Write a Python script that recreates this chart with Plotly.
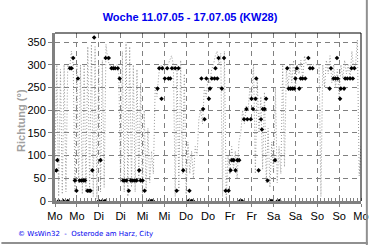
import plotly.graph_objects as go

# time axis: hours since Mo 11.07.05 00:00
tick_hours = [0, 12, 24, 36, 48, 60, 72, 84, 96, 108, 120, 132, 144, 156, 168]
tick_labels = ["Mo", "Mo", "Di", "Di", "Mi", "Mi", "Do", "Do", "Fr", "Fr",
               "Sa", "Sa", "So", "So", "Mo"]
y_ticks = [0, 50, 100, 150, 200, 250, 300, 350]

# fine-resolution wind direction trace (approx. hourly readings of the dotted curve)
gray_h = list(range(0, 169))
gray_v = [90, 300, 10, 290, 15, 300, 20, 300, 290, 330,
          300, 20, 300, 40, 300, 15, 300, 20, 340, 25,
          345, 10, 340, 5, 300, 20, 310, 30, 345, 310,
          300, 295, 300, 290, 300, 280, 40, 330, 20, 350,
          10, 340, 30, 300, 20, 290, 40, 260, 10, 200,
          20, 160, 40, 110, 60, 250, 230, 280, 300, 295,
          300, 290, 300, 310, 320, 300, 10, 300, 20, 310,
          60, 280, 15, 130, 60, 110, 50, 120, 100, 180,
          200, 170, 250, 230, 270, 260, 290, 300, 320, 330,
          300, 325, 10, 330, 5, 100, 60, 120, 70, 110,
          50, 130, 150, 200, 170, 210, 200, 250, 230, 300,
          60, 270, 150, 230, 70, 240, 40, 160, 30, 130,
          60, 250, 40, 120, 60, 300, 75, 290, 250, 300,
          260, 310, 250, 300, 280, 310, 270, 320, 300, 300,
          300, 300, 300, 300, 300, 300, 10, 300, 250, 310,
          280, 320, 260, 300, 250, 290, 230, 300, 270, 310,
          280, 300, 270, 330, 290, 300, 355, 55, 120]

# hourly mean directions (black markers)
mk_h = [0.8, 1.3, 2.0, 4.5, 7.0,
        8.2, 9.1, 10.0, 10.9, 11.8, 12.6,
        13.5, 14.5, 15.5, 16.5, 17.8, 18.7, 19.5, 20.5, 21.5,
        24.1, 25.0, 26.0, 27.5,
        27.8, 29.5, 31.0, 32.0, 33.0, 34.5, 35.5,
        37.4, 38.3, 39.3, 40.5, 41.6, 42.7, 43.8, 44.8, 46.2, 47.0, 48.1, 49.2,
        51.8, 52.8, 53.8,
        56.3, 57.2, 58.5, 58.9, 60.3, 61.6, 62.3, 63.3, 64.2, 66.0, 66.8, 67.8,
        70.4, 73.3, 73.8, 74.8, 75.8,
        80.4, 81.3, 82.1, 83.1, 84.5, 85.1, 86.1, 87.6, 88.1, 89.1, 89.8, 91.6, 92.8,
        93.7, 95.3, 96.4, 97.1, 98.1, 99.1, 100.1, 101.1, 101.6, 102.6,
        103.8, 105.1, 105.6, 107.5, 107.9, 108.7, 110.1, 110.5, 111.8, 113.1,
        113.6, 114.1, 115.1, 115.9, 116.7,
        118.1, 119.1, 120.8, 122.2, 123.2,
        127.5, 128.3, 129.3, 130.3, 131.3, 132.0, 132.8, 134.1, 134.9, 135.9,
        137.4, 139.1, 140.0, 141.4,
        150.8, 151.5, 152.9, 154.0, 154.8, 155.2, 156.5, 156.9, 158.7, 159.3,
        160.5, 162.0, 162.8, 163.5, 164.4]
mk_v = [67.5, 90, 0, 0, 0,
        292.5, 292.5, 315, 45, 22.5, 270,
        45, 45, 45, 45, 22.5, 22.5, 22.5, 67.5, 360,
        0, 90, 0, 0,
        315, 315, 292.5, 292.5, 292.5, 292.5, 270,
        45, 45, 45, 22.5, 45, 45, 45, 45, 67.5, 45, 45, 22.5,
        0, 0, 0,
        247.5, 292.5, 225, 292.5, 270, 292.5, 270, 270, 292.5, 292.5, 22.5, 292.5,
        67.5, 0, 22.5, 0, 0,
        270, 202.5, 180, 270, 225, 247.5, 270, 270, 292.5, 270, 315, 247.5, 315,
        22.5, 22.5, 67.5, 90, 90, 67.5, 90, 90, 0, 0,
        180, 202.5, 180, 180, 225, 202.5, 225, 270, 67.5, 180,
        157.5, 202.5, 202.5, 225, 45,
        0, 0, 90, 0, 0,
        292.5, 247.5, 247.5, 247.5, 247.5, 270, 292.5, 247.5, 270, 270,
        270, 315, 292.5, 292.5,
        247.5, 292.5, 270, 270, 315, 270, 225, 247.5, 247.5, 270,
        270, 270, 292.5, 270, 292.5]

fig = go.Figure()
fig.add_trace(go.Scatter(
    x=gray_h, y=gray_v, mode="lines",
    line=dict(color="#9a9a9a", width=1, dash="1px,2px"),
    hoverinfo="skip"))
fig.add_trace(go.Scatter(
    x=mk_h, y=mk_v, mode="markers",
    marker=dict(symbol="diamond", size=3.5, color="black", line=dict(width=0))))

axis_font = dict(family="Liberation Sans, Arial, sans-serif", size=11, color="black")

fig.update_layout(
    width=380, height=245,
    margin=dict(l=55, r=11, t=33, b=44),
    paper_bgcolor="white", plot_bgcolor="white",
    showlegend=False,
    title=dict(text="<b>Woche 11.07.05 - 17.07.05 (KW28)</b>",
               x=0.5, xanchor="center", y=1 - 17 / 245, yanchor="middle",
               font=dict(family="Liberation Sans, Arial, sans-serif", size=11, color="#0000EE")),
    xaxis=dict(range=[0, 168], tickvals=tick_hours, ticktext=tick_labels,
               showgrid=True, gridcolor="#808080", gridwidth=1, griddash="5px,4px",
               showline=True, linecolor="#808080", linewidth=3,
               ticks="outside", ticklen=3, tickcolor="#808080", tickwidth=1,
               minor=dict(dtick=2, ticks="inside", ticklen=3, tickcolor="#808080",
                          showgrid=False),
               zeroline=False, tickfont=axis_font),
    yaxis=dict(range=[0, 370], tickvals=y_ticks,
               showgrid=True, gridcolor="#808080", gridwidth=1, griddash="5px,4px",
               showline=True, linecolor="#808080", linewidth=3,
               ticks="outside", ticklen=4, tickcolor="#808080", tickwidth=1,
               zeroline=False, tickfont=axis_font),
    shapes=[
        dict(type="line", xref="paper", yref="paper", x0=0, x1=1, y0=1, y1=1,
             line=dict(color="black", width=1)),
        dict(type="line", xref="paper", yref="paper", x0=1, x1=1, y0=0, y1=1,
             line=dict(color="black", width=1)),
        dict(type="line", xref="paper", yref="paper", x0=(375 - 55) / 314, x1=(375 - 55) / 314,
             y0=(201 - 245) / 168, y1=(201 - 0) / 168,
             line=dict(color="#909090", width=2)),
        dict(type="line", xref="paper", yref="paper", x0=-55 / 314, x1=(376 - 55) / 314,
             y0=(201 - 243) / 168, y1=(201 - 243) / 168,
             line=dict(color="#909090", width=2)),
    ],
    annotations=[
        dict(text="<b>Richtung (°)</b>", textangle=-90, xref="paper", yref="paper",
             x=(20 - 55) / 314, y=(201 - 120) / 168, xanchor="center", yanchor="middle",
             showarrow=False,
             font=dict(family="Liberation Sans, Arial, sans-serif", size=11, color="#a0a0a0")),
        dict(text="© WsWin32  -  Osterode am Harz, City", xref="paper", yref="paper",
             x=(15 - 55) / 314, y=(201 - 234) / 168, xanchor="left", yanchor="middle",
             showarrow=False,
             font=dict(family="DejaVu Sans, sans-serif", size=7, color="#0000EE")),
    ],
)

fig.write_html("out.html")
